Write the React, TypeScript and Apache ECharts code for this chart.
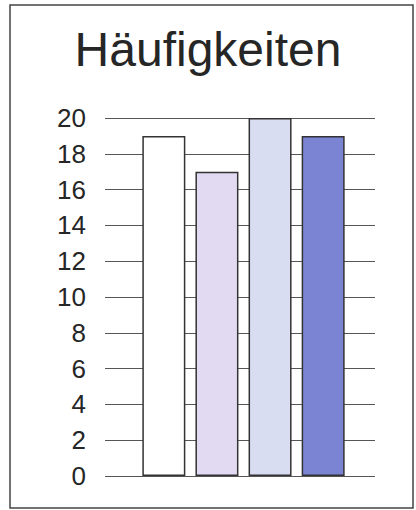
import React, { useEffect, useRef } from "react";
import * as echarts from "echarts";

const categories = [""];
const seriesNames = ["A", "B", "C", "D"];
const seriesValues = [19, 17, 20, 19];
const seriesColors = ["#ffffff", "#e2daf3", "#d9ddf2", "#7b83d3"];
const yTicks = { min: 0, max: 20, interval: 2 };
const titleText = "Häufigkeiten";

export default function App() {
  const ref = useRef<HTMLDivElement>(null);
  useEffect(() => {
    document.body.style.margin = "0";
    const chart = echarts.init(ref.current!, null, { renderer: "svg" });
    const font = "Liberation Sans, Arial, sans-serif";
    chart.setOption({
      animation: false,
      backgroundColor: "#ffffff",
      title: {
        text: titleText,
        left: "center",
        top: 20,
        textStyle: { fontFamily: font, fontSize: 48, fontWeight: "normal", color: "#262626" },
      },
      graphic: [
        {
          type: "rect",
          shape: { x: 10, y: 5, width: 403, height: 503 },
          style: { fill: "none", stroke: "#444", lineWidth: 1.5 },
          silent: true,
        },
      ],
      grid: [
        { left: 105, right: 41, top: 118, bottom: 34 },
        { left: 110, right: 39, top: 118, bottom: 34 },
      ],
      xAxis: [
        { type: "category", gridIndex: 0, data: categories, show: false },
        { type: "category", gridIndex: 1, data: categories, show: false },
      ],
      yAxis: [
        {
          type: "value",
          gridIndex: 0,
          ...yTicks,
          axisLine: { show: false },
          axisTick: { show: false },
          axisLabel: { margin: 19, fontFamily: font, fontSize: 26, color: "#262626" },
          splitLine: { lineStyle: { color: "#555", width: 1.2 } },
        },
        {
          type: "value",
          gridIndex: 1,
          ...yTicks,
          show: false,
          splitLine: { show: false },
        },
      ],
      series: [
        {
          name: "grid",
          type: "bar",
          xAxisIndex: 0,
          yAxisIndex: 0,
          data: [0],
          silent: true,
          itemStyle: { opacity: 0 },
        },
        ...seriesNames.map((name, i) => ({
          name,
          type: "bar",
          xAxisIndex: 1,
          yAxisIndex: 1,
          data: [seriesValues[i]],
          barWidth: 43,
          barGap: "23.5%",
          itemStyle: { color: seriesColors[i], borderColor: "#333", borderWidth: 1.5 },
        })),
      ],
    });
    return () => chart.dispose();
  }, []);
  return <div ref={ref} style={{ width: 416, height: 510 }} />;
}
